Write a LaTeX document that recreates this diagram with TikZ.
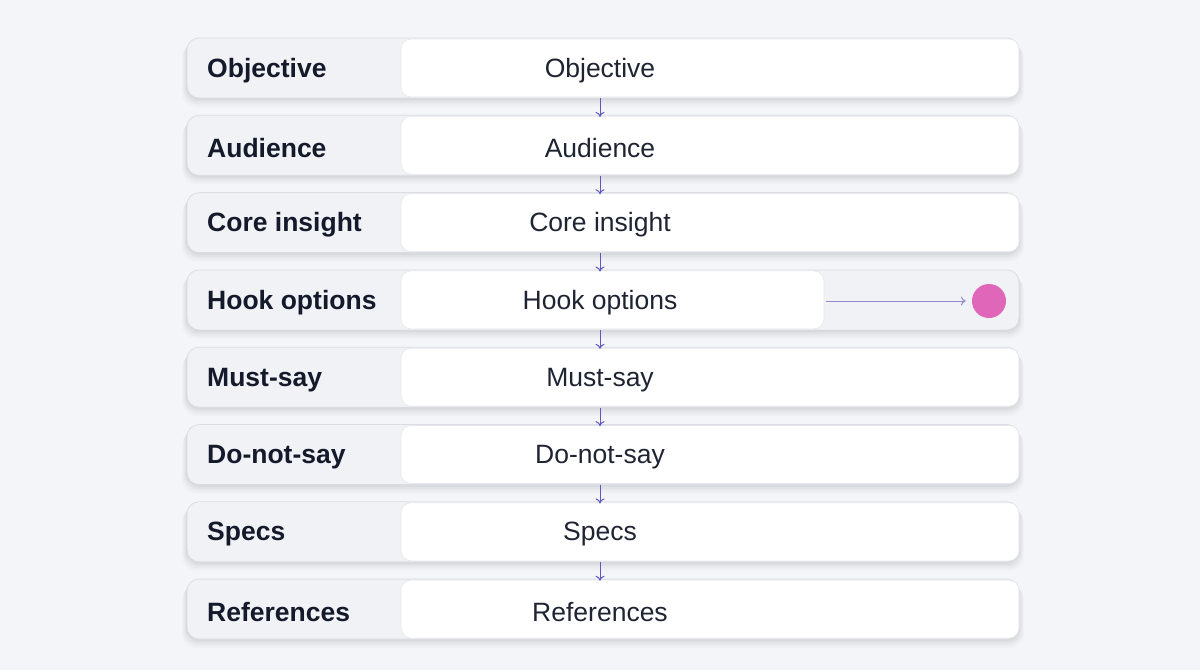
\documentclass[tikz,border=0pt]{standalone}
\usepackage{fontspec}
\setmainfont{Liberation Sans}
\usetikzlibrary{arrows.meta}
\definecolor{bgc}{HTML}{F4F5F9}
\definecolor{rowfill}{HTML}{F1F2F6}
\definecolor{rowline}{HTML}{DCDDE4}
\definecolor{labc}{HTML}{141A2B}
\definecolor{txtc}{HTML}{1F2433}
\definecolor{arrc}{HTML}{5E57BE}
\definecolor{harrc}{HTML}{8F8BD3}
\definecolor{pinkc}{HTML}{E066B9}
\tikzset{
  rowbox/.style={draw=rowline, line width=0.8pt, fill=rowfill, rounded corners=12pt, minimum width=832pt, minimum height=60pt, inner sep=0pt},
  whitebox/.style={draw=rowline!70, line width=0.6pt, fill=white, rounded corners=10pt, inner sep=0pt},
  lab/.style={anchor=west, font=\fontsize{26.5}{30}\selectfont\bfseries, text=labc, inner sep=0pt},
  txt/.style={font=\fontsize{26.5}{30}\selectfont, text=txtc, inner sep=0pt},
  flow/.style={draw=arrc, line width=1pt, -{To[length=5pt,width=9pt]}},
  hookarrow/.style={draw=harrc, line width=1pt, -{To[length=5pt,width=9pt]}},
}
\begin{document}
\begin{tikzpicture}[x=1pt,y=-1pt]
\useasboundingbox[fill=bgc] (0,0) rectangle (1200,670);
\foreach \i/\lt in {0/Objective,1/Audience,2/Core insight,3/Hook options,4/Must-say,5/Do-not-say,6/Specs,7/References}{
  \pgfmathsetmacro{\yc}{68+77.3*\i}
  % soft shadow
  \foreach \k/\op in {8/0.02,6/0.025,4/0.03,2/0.04}{
    \fill[black, opacity=\op, rounded corners=14pt] (187-\k*0.6,\yc-30+\k*0.7) rectangle (1019+\k*0.6,\yc+30+\k*1.1);
  }
  \node[rowbox] (row\i) at (603,\yc) {};
  \ifnum\i=3
    \node[whitebox, minimum width=423pt, minimum height=58pt] (wb\i) at (612.5,\yc) {};
  \else
    \node[whitebox, minimum width=618pt, minimum height=58pt] (wb\i) at (710,\yc) {};
  \fi
  \node[lab] (l\i) at (207,\yc+2.5) {\lt};
  \node[txt] (t\i) at (600,\yc+2.5) {\lt};
}
\foreach \i [evaluate=\i as \j using int(\i+1)] in {0,...,6}{
  \draw[flow] (row\i.south -| t\i) -- ([yshift=-2pt]row\j.north -| t\i);
}
\node[circle, fill=pinkc, minimum size=34pt, inner sep=0pt] (dot) at (989,301) {};
\draw[hookarrow] ([xshift=2pt]wb3.east |- dot) -- ([xshift=-6pt]dot.west);
\end{tikzpicture}
\end{document}
